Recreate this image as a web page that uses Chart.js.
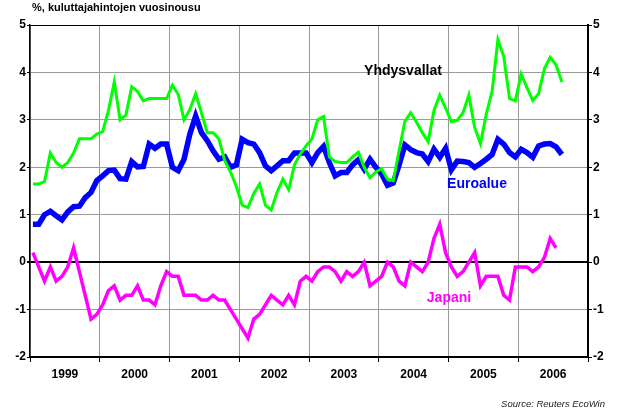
<!DOCTYPE html>
<html>
<head>
<meta charset="utf-8">
<script src="https://cdn.jsdelivr.net/npm/chart.js@4.4.1/dist/chart.umd.min.js"></script>
<style>
  html, body { margin: 0; padding: 0; background: #fff; }
  #wrap { width: 623px; height: 411px; }
</style>
</head>
<body>
<div id="wrap"><canvas id="cpiChart" width="623" height="411"></canvas></div>
<script>
// Monthly values, Jan 1999 onwards (% y/y)
const years = ['1999', '2000', '2001', '2002', '2003', '2004', '2005', '2006'];

const usVals = [
    1.65, 1.65, 1.7, 2.3, 2.1, 2.0, 2.1, 2.3, 2.6, 2.6, 2.6, 2.7,
    2.75, 3.2, 3.8, 3.0, 3.1, 3.7, 3.6, 3.4, 3.45, 3.45, 3.45, 3.45,
    3.73, 3.54, 3.0, 3.22, 3.55, 3.15, 2.73, 2.73, 2.6, 2.14, 1.9, 1.6,
    1.2, 1.15, 1.45, 1.65, 1.2, 1.1, 1.47, 1.75, 1.53, 2.05, 2.28, 2.45,
    2.6, 3.0, 3.07, 2.22, 2.12, 2.1, 2.1, 2.22, 2.32, 2.0, 1.78, 1.9,
    1.97, 1.75, 1.72, 2.35, 2.97, 3.15, 2.95, 2.73, 2.54, 3.2, 3.52, 3.25,
    2.96, 2.99, 3.15, 3.52, 2.84, 2.5, 3.12, 3.6, 4.69, 4.34, 3.45, 3.4,
    3.97, 3.68, 3.41, 3.55, 4.08, 4.32, 4.16, 3.8
];

const euVals = [
    0.8, 0.8, 1.0, 1.07, 0.98, 0.89, 1.06, 1.17, 1.18, 1.36, 1.47, 1.72,
    1.82, 1.93, 1.94, 1.76, 1.75, 2.12, 2.01, 2.02, 2.49, 2.4, 2.49, 2.49,
    2.0, 1.93, 2.17, 2.7, 3.08, 2.73, 2.56, 2.35, 2.17, 2.22, 2.0, 2.05,
    2.59, 2.52, 2.49, 2.31, 2.03, 1.93, 2.03, 2.14, 2.14, 2.3, 2.3, 2.3,
    2.1, 2.31, 2.44, 2.1, 1.82, 1.89, 1.89, 2.05, 2.16, 1.96, 2.17, 2.0,
    1.86, 1.62, 1.67, 2.05, 2.47, 2.37, 2.31, 2.28, 2.12, 2.38, 2.21, 2.4,
    1.95, 2.13, 2.12, 2.1, 2.0, 2.08, 2.17, 2.27, 2.59, 2.49, 2.31, 2.22,
    2.38, 2.31, 2.21, 2.45, 2.49, 2.5, 2.43, 2.27
];

const jpVals = [
    0.2, -0.1, -0.4, -0.1, -0.4, -0.3, -0.1, 0.3, -0.2, -0.7, -1.2, -1.1,
    -0.9, -0.6, -0.5, -0.8, -0.7, -0.7, -0.5, -0.8, -0.8, -0.9, -0.5, -0.2,
    -0.3, -0.3, -0.7, -0.7, -0.7, -0.8, -0.8, -0.7, -0.8, -0.8, -1.0, -1.2,
    -1.4, -1.6, -1.2, -1.1, -0.9, -0.7, -0.8, -0.9, -0.7, -0.9, -0.4, -0.3,
    -0.4, -0.2, -0.1, -0.1, -0.2, -0.4, -0.2, -0.3, -0.2, 0.0, -0.5, -0.4,
    -0.3, 0.0, -0.1, -0.4, -0.5, 0.0, -0.1, -0.2, 0.0, 0.5, 0.8, 0.2,
    -0.1, -0.3, -0.2, 0.0, 0.2, -0.5, -0.3, -0.3, -0.3, -0.7, -0.8, -0.1,
    -0.1, -0.1, -0.2, -0.1, 0.1, 0.5, 0.3
];

const yTicks = [-2, -1, 0, 1, 2, 3, 4, 5];

const FONT = '"Liberation Sans", Arial, sans-serif';

// month index -> point at the middle of that month
const toPoints = vals => vals.map((v, i) => ({ x: i + 0.5, y: v }));

// Texts on the chart (title, series names, source)
const annotations = {
    id: 'annotations',
    afterDraw(chart) {
        const ctx = chart.ctx;
        ctx.save();
        ctx.textBaseline = 'alphabetic';
        ctx.textAlign = 'left';
        ctx.fillStyle = '#000';
        ctx.font = `bold 11px ${FONT}`;
        ctx.fillText('%, kuluttajahintojen vuosinousu', 32, 11);

        ctx.textAlign = 'center';
        ctx.textBaseline = 'middle';
        ctx.font = `bold 14px ${FONT}`;
        ctx.fillStyle = '#000';
        ctx.fillText('Yhdysvallat', 403, 71);
        ctx.fillStyle = '#0000ff';
        ctx.fillText('Euroalue', 477, 184);
        ctx.fillStyle = '#ff00ff';
        ctx.fillText('Japani', 449, 298);

        ctx.textAlign = 'right';
        ctx.textBaseline = 'alphabetic';
        ctx.fillStyle = '#222';
        ctx.font = `italic 9.5px ${FONT}`;
        ctx.fillText('Source: Reuters EcoWin', 605, 407);
        ctx.restore();
    }
};

const ctxMain = document.getElementById('cpiChart').getContext('2d');
new Chart(ctxMain, {
    type: 'line',
    data: {
        datasets: [
            { label: 'Yhdysvallat', data: toPoints(usVals), borderColor: '#00ff00', borderWidth: 3, pointRadius: 0, tension: 0, yAxisID: 'y' },
            { label: 'Japani', data: toPoints(jpVals), borderColor: '#ff00ff', borderWidth: 3.5, pointRadius: 0, tension: 0, yAxisID: 'y' },
            { label: 'Euroalue', data: toPoints(euVals), borderColor: '#0000ff', borderWidth: 5.5, pointRadius: 0, tension: 0, yAxisID: 'y' }
        ]
    },
    options: {
        responsive: false,
        animation: false,
        layout: { padding: { top: 25, left: 0, right: 0, bottom: 0 } },
        plugins: { legend: { display: false }, tooltip: { enabled: false }, title: { display: false } },
        scales: {
            x: {
                type: 'linear',
                min: 0,
                max: years.length * 12,
                afterBuildTicks: scale => {
                    const t = [];
                    for (let k = 0; k <= years.length * 2; k++) t.push({ value: k * 6 });
                    scale.ticks = t;
                },
                afterFit: scale => { scale.height = 54; },
                ticks: {
                    autoSkip: false,
                    maxRotation: 0,
                    padding: 5,
                    color: '#000',
                    font: { family: FONT, size: 12, weight: 'bold' },
                    callback: value => (value % 12 === 6 ? years[(value - 6) / 12] : '')
                },
                grid: {
                    color: c => (c.tick && c.tick.value % 12 === 0 ? '#9a9a9a' : 'rgba(0,0,0,0)'),
                    tickColor: c => (c.tick && c.tick.value % 12 === 0 ? '#000' : 'rgba(0,0,0,0)'),
                    lineWidth: 1,
                    tickLength: 5
                },
                border: { color: '#000', width: 2 }
            },
            y: {
                position: 'left',
                min: yTicks[0],
                max: yTicks[yTicks.length - 1],
                afterBuildTicks: scale => { scale.ticks = yTicks.map(v => ({ value: v })); },
                afterFit: scale => { scale.width = 30; },
                ticks: {
                    padding: 1,
                    color: '#000',
                    font: { family: FONT, size: 12, weight: 'bold' }
                },
                grid: {
                    color: c => (c.tick && (c.tick.value === 0 || c.tick.value === 5) ? '#000' : '#9a9a9a'),
                    lineWidth: c => (c.tick && c.tick.value === 0 ? 2 : 1),
                    tickColor: '#000',
                    tickLength: 3
                },
                border: { color: '#000', width: 1.5 }
            },
            y2: {
                position: 'right',
                min: yTicks[0],
                max: yTicks[yTicks.length - 1],
                afterBuildTicks: scale => { scale.ticks = yTicks.map(v => ({ value: v })); },
                afterFit: scale => { scale.width = 35; },
                ticks: {
                    padding: 1,
                    color: '#000',
                    font: { family: FONT, size: 12, weight: 'bold' }
                },
                grid: { drawOnChartArea: false, tickColor: '#000', tickLength: 4 },
                border: { color: '#000', width: 2 }
            }
        }
    },
    plugins: [annotations]
});
</script>
</body>
</html>
